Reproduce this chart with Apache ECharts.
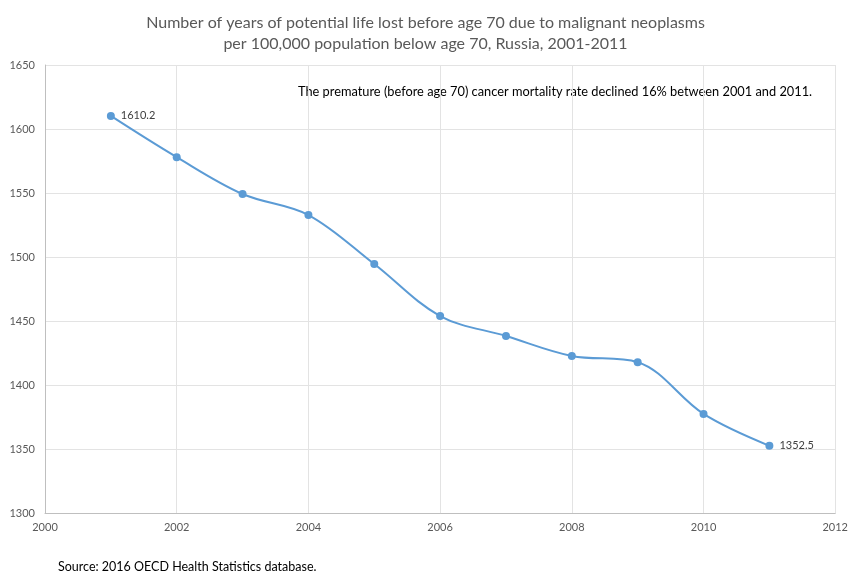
<!DOCTYPE html>
<html>
<head>
<meta charset="utf-8">
<script src="https://cdn.jsdelivr.net/npm/echarts@6/dist/echarts.min.js"></script>
<style>
  html, body { margin: 0; padding: 0; background: #fff; }
  #chart { width: 851px; height: 578px; }
</style>
</head>
<body>
<div id="chart"></div>
<script>
// Years of potential life lost (malignant neoplasms), Russia
const years = [2001, 2002, 2003, 2004, 2005, 2006, 2007, 2008, 2009, 2010, 2011];
const pyll = [1610.2, 1578.0, 1549.2, 1532.8, 1494.5, 1453.9, 1438.3, 1422.7, 1417.8, 1377.4, 1352.5];
const labelledYears = [2001, 2011];

const titleLines = [
  'Number of years of potential life lost before age 70 due to malignant neoplasms',
  'per 100,000 population below age 70, Russia, 2001-2011'
];
const noteText = 'The premature (before age 70) cancer mortality rate declined 16% between 2001 and 2011.';
const sourceText = 'Source: 2016 OECD Health Statistics database.';

const FONT = 'Lato, "Open Sans", sans-serif';

const chart = echarts.init(document.getElementById('chart'), null, { renderer: 'canvas' });

chart.setOption({
  animation: false,
  backgroundColor: '#ffffff',
  textStyle: { fontFamily: FONT },
  title: {
    text: titleLines.join('\n'),
    left: 'center',
    top: 7,
    textStyle: { fontFamily: FONT, fontSize: 16, fontWeight: 'normal', color: '#595959', lineHeight: 21 }
  },
  grid: { left: 45, right: 13, top: 65, bottom: 65, containLabel: false },
  xAxis: {
    type: 'value',
    min: 2000,
    max: 2012,
    interval: 2,
    axisLine: { show: true, lineStyle: { color: '#bfbfbf', width: 1 } },
    axisTick: { show: false },
    axisLabel: { color: '#595959', fontSize: 11, margin: 9, fontFamily: FONT, formatter: v => String(v) },
    splitLine: { show: true, lineStyle: { color: '#e3e3e3', width: 1 } }
  },
  yAxis: {
    type: 'value',
    min: 1300,
    max: 1650,
    interval: 50,
    axisLine: { show: true, lineStyle: { color: '#bfbfbf', width: 1 } },
    axisTick: { show: false },
    axisLabel: { color: '#595959', fontSize: 11, margin: 10, fontFamily: FONT, verticalAlign: 'middle', formatter: v => String(v) },
    splitLine: { show: true, lineStyle: { color: '#e3e3e3', width: 1 } }
  },
  series: [{
    type: 'line',
    data: years.map((y, i) => [y, pyll[i]]),
    smooth: 0.35,
    symbol: 'circle',
    symbolSize: 8,
    itemStyle: { color: '#5b9bd5' },
    lineStyle: { color: '#5b9bd5', width: 2 },
    label: {
      show: true,
      position: 'right',
      distance: 6,
      color: '#404040',
      fontSize: 11,
      fontFamily: FONT,
      formatter: p => labelledYears.includes(p.value[0]) ? p.value[1].toFixed(1) : ''
    }
  }],
  graphic: [
    {
      type: 'text',
      left: 298,
      top: 85,
      style: { text: noteText, fill: '#000000', font: '12.8px ' + FONT }
    },
    {
      type: 'text',
      left: 58,
      top: 560,
      style: { text: sourceText, fill: '#000000', font: '12.5px ' + FONT }
    }
  ]
});
</script>
</body>
</html>
